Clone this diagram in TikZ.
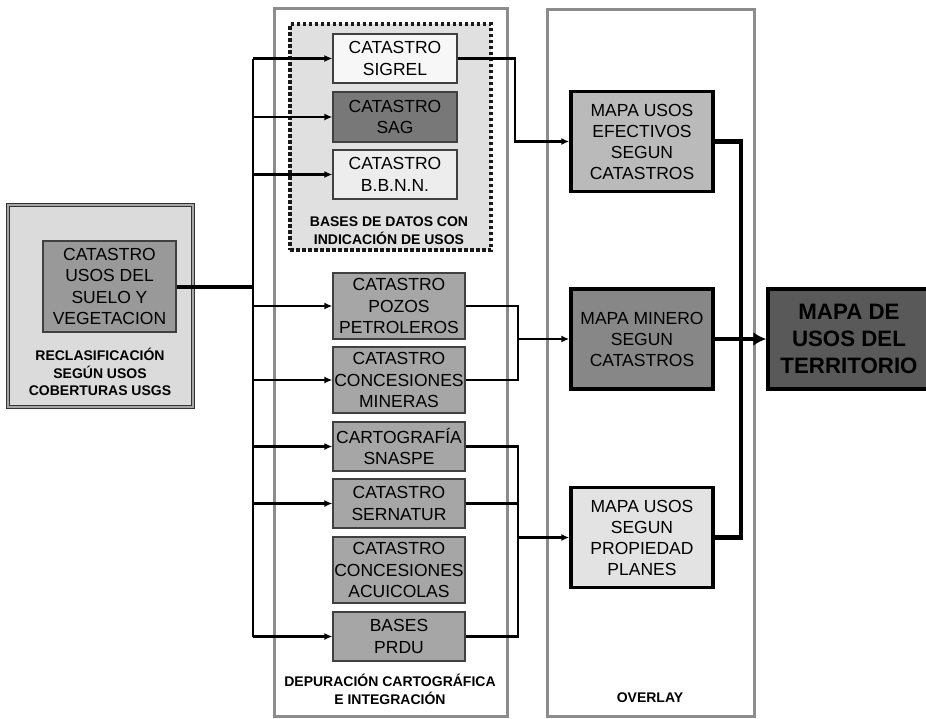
\documentclass[tikz,border=0pt]{standalone}
\usepackage{fontspec}
\setmainfont{Liberation Sans}
\usetikzlibrary{arrows.meta}
\begin{document}
\begin{tikzpicture}[x=1pt,y=-1pt,
  >={Latex[length=8pt,width=7pt]},
  catbox/.style={draw=black!75,line width=1.2pt,inner sep=0pt,align=center,
    font=\fontsize{17.5}{21.5}\selectfont},
  mapbox/.style={draw=black,line width=3.5pt,inner sep=0pt,align=center,
    minimum width=142pt,minimum height=100pt,font=\fontsize{17.5}{21}\selectfont},
  colframe/.style={draw=black!45,line width=3pt,inner sep=0pt},
  dotbox/.style={draw=black!90,fill=black!12,line width=3.2pt,dash pattern=on 3.5pt off 2.5pt,inner sep=0pt},
  tagtext/.style={align=center,font=\bfseries\fontsize{14}{17.7}\selectfont},
  busline/.style={line width=2.8pt},
  thickline/.style={line width=4.5pt}]
  \useasboundingbox (0,0) rectangle (926,718);
  % marcos de columnas
  \node[colframe,minimum width=233pt,minimum height=708pt] (depcol) at (390.5,362) {};
  \node[colframe,minimum width=207pt,minimum height=707pt] (ovcol) at (650.5,362.5) {};
  \node[dotbox,minimum width=201pt,minimum height=226pt] (usosbox) at (390.5,137) {};
  \node[draw=black!80,fill=black!14,line width=1.6pt,double=black!35,double distance=1.6pt,
    minimum width=185pt,minimum height=202pt] (reclas) at (100.5,306) {};
  % catastros
  \node[catbox,fill=black!40,minimum width=133pt,minimum height=91pt] (usv) at (109.5,286.5)
    {CATASTRO\\USOS DEL\\SUELO Y\\VEGETACION};
  \node[tagtext] (reclastxt) at (100,372) {RECLASIFICACIÓN\\SEGÚN USOS\\COBERTURAS USGS};
  \node[catbox,fill=black!3,minimum width=124pt,minimum height=49pt] (sigrel) at (395,58.5) {CATASTRO\\SIGREL};
  \node[catbox,fill=black!53,minimum width=124pt,minimum height=50pt] (sag) at (395,117) {CATASTRO\\SAG};
  \node[catbox,fill=black!7,minimum width=124pt,minimum height=49pt] (bbnn) at (395,174.5) {CATASTRO\\B.B.N.N.};
  \node[tagtext] (usostxt) at (389,231) {BASES DE DATOS CON\\INDICACIÓN DE USOS};
  \node[catbox,fill=black!35,minimum width=132pt,minimum height=66pt] (petro) at (399,306) {CATASTRO\\POZOS\\PETROLEROS};
  \node[catbox,fill=black!35,minimum width=132pt,minimum height=66pt] (mineras) at (399,380) {CATASTRO\\CONCESIONES\\MINERAS};
  \node[catbox,fill=black!35,minimum width=132pt,minimum height=49pt] (snaspe) at (399,446.5) {CARTOGRAFÍA\\SNASPE};
  \node[catbox,fill=black!35,minimum width=132pt,minimum height=49pt] (sernatur) at (399,503.5) {CATASTRO\\SERNATUR};
  \node[catbox,fill=black!35,minimum width=132pt,minimum height=66pt] (acuic) at (399,570) {CATASTRO\\CONCESIONES\\ACUICOLAS};
  \node[catbox,fill=black!35,minimum width=132pt,minimum height=49pt] (prdu) at (399,636.5) {BASES\\PRDU};
  \node[tagtext] (deptxt) at (390,689.5) {DEPURACIÓN CARTOGRÁFICA\\E INTEGRACIÓN};
  % mapas
  \node[mapbox,fill=black!27] (efect) at (642,141.5) {MAPA USOS\\EFECTIVOS\\SEGUN\\CATASTROS};
  \node[mapbox,fill=black!47] (minero) at (642,339) {MAPA MINERO\\SEGUN\\CATASTROS};
  \node[mapbox,fill=black!11] (propie) at (642,537.5) {MAPA USOS\\SEGUN\\PROPIEDAD\\PLANES};
  \node[tagtext] (ovtxt) at (650,698) {OVERLAY};
  \node[mapbox,fill=black!65,minimum width=162pt,font=\bfseries\fontsize{22.3}{27}\selectfont]
    (territ) at (849,339) {MAPA DE\\USOS DEL\\TERRITORIO};
  % conexiones
  \coordinate (bus) at (253,0);
  \coordinate (jsig) at (515,0);
  \coordinate (jmin) at (518,0);
  \coordinate (jover) at (741,0);
  \draw[line width=4pt] (usv.east) -- (bus |- usv.east);
  \draw[busline] (bus |- sigrel) -- (bus |- prdu);
  \foreach \n in {sigrel,sag,bbnn,petro,mineras,snaspe,sernatur,prdu}
    \draw[busline,->] (bus |- \n) -- (\n);
  \draw[busline,->] (sigrel.east) -- (sigrel.east -| jsig) -- (jsig |- efect) -- (efect);
  \draw[busline] (petro.east) -| (jmin |- mineras) -- (mineras.east);
  \draw[busline,->] (jmin |- minero) -- (minero);
  \draw[busline] (snaspe.east) -| (jmin |- prdu) -- (prdu.east);
  \draw[busline] (sernatur.east) -- (sernatur.east -| jmin);
  \draw[busline,->] (jmin |- propie) -- (propie);
  \draw[thickline] (efect.east) -| (jover |- propie) -- (propie.east);
  \draw[thickline,-{Latex[length=13pt,width=14pt]}] (minero) -- (territ);
\end{tikzpicture}
\end{document}
